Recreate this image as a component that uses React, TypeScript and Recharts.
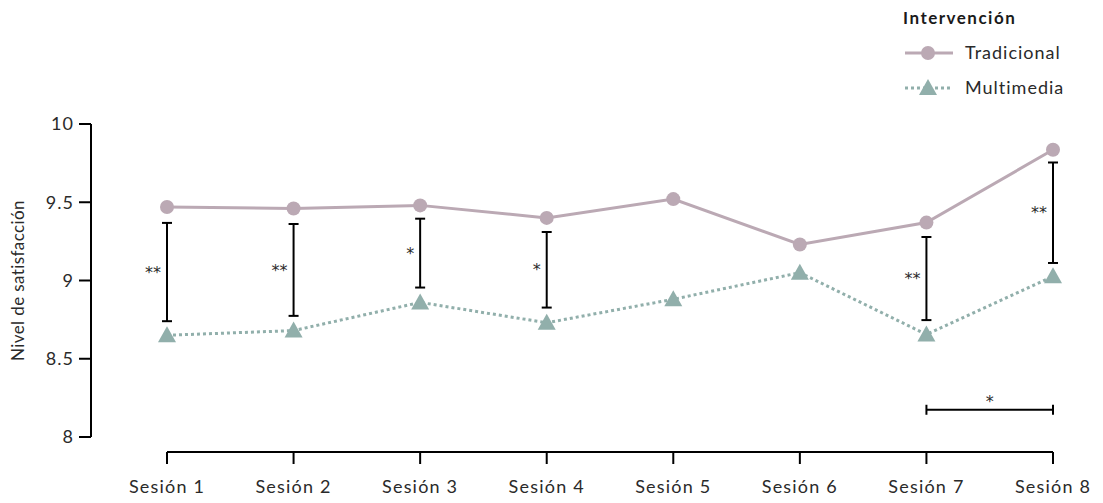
import React from "react";
import {
  LineChart,
  Line,
  XAxis,
  YAxis,
  ErrorBar,
  LabelList,
  ReferenceLine,
  Label,
} from "recharts";

// data
const sessions = [
  "Sesión 1",
  "Sesión 2",
  "Sesión 3",
  "Sesión 4",
  "Sesión 5",
  "Sesión 6",
  "Sesión 7",
  "Sesión 8",
];
const tradicional = [9.47, 9.46, 9.48, 9.4, 9.52, 9.23, 9.37, 9.835];
const multimedia = [8.65, 8.68, 8.86, 8.73, 8.88, 9.05, 8.655, 9.027];

// significance brackets between the groups, per session
const sigUpper = [9.368, 9.361, 9.395, 9.31, null, null, 9.278, 9.754];
const sigLower = [8.74, 8.774, 8.955, 8.827, null, null, 8.747, 9.112];
const sigMarks = ["**", "**", "*", "*", null, null, "**", "**"];

// session 7 vs session 8 comparison
const pairFrom = sessions[6];
const pairTo = sessions[7];
const pairLevel = 8.174;
const pairMark = "*";

const yTicks = [8, 8.5, 9, 9.5, 10];
const Y_MIN = 8;
const Y_MAX = 10;

const COLOR_TRAD = "#bba9b4";
const COLOR_MULTI = "#91afab";
const FONT = "Lato, 'Open Sans', sans-serif";
const STAR_FONT = "'DejaVu Sans', sans-serif";
const TEXT = "#2a2a2a";

const WIDTH = 1103;
const HEIGHT = 503;
const X_AXIS_H = 66;
const MARGIN = { top: 124, right: 50, bottom: 0, left: 0 };
const PLOT_H = HEIGHT - MARGIN.top - X_AXIS_H;
const AXIS_GAP = 15; // x axis sits a little below the y=8 line
const axisBase = Y_MIN - (AXIS_GAP * (Y_MAX - Y_MIN)) / PLOT_H;
const CAP = (5 * (Y_MAX - Y_MIN)) / PLOT_H;

const data = sessions.map((session, i) => {
  const hi = sigUpper[i];
  const lo = sigLower[i];
  return {
    session,
    tradicional: tradicional[i],
    multimedia: multimedia[i],
    sigMid: hi == null || lo == null ? null : (hi + lo) / 2,
    sigErr: hi == null || lo == null ? null : (hi - lo) / 2,
    sigMark: sigMarks[i],
  };
});

const TriangleDot = (props: any) => {
  const { cx, cy, index } = props;
  if (cx == null || cy == null) return null;
  return (
    <path
      key={`tri-${index}`}
      d={`M${cx},${cy - 9} L${cx + 9},${cy + 7} L${cx - 9},${cy + 7} Z`}
      fill={COLOR_MULTI}
    />
  );
};

const SessionTick = ({ x, y, payload }: any) => (
  <g>
    <line
      x1={x}
      x2={x}
      y1={y + AXIS_GAP}
      y2={y + AXIS_GAP + 12}
      stroke="#000"
      strokeWidth={2}
    />
    <text
      x={x}
      y={y + 56}
      textAnchor="middle"
      fill={TEXT}
      fontSize={18}
      fontFamily={FONT}
      letterSpacing={1.2}
    >
      {payload.value}
    </text>
  </g>
);

const legendItems = [
  { name: "Tradicional", color: COLOR_TRAD, dashed: false },
  { name: "Multimedia", color: COLOR_MULTI, dashed: true },
];

const LegendBox = () => (
  <svg
    width={208}
    height={110}
    style={{ position: "absolute", left: 895, top: 0 }}
  >
    <text
      x={8}
      y={24}
      fontFamily={FONT}
      fontWeight={700}
      fontSize={17}
      fill="#1a1a1a"
      letterSpacing={1.5}
    >
      Intervención
    </text>
    {legendItems.map((item, i) => {
      const cy = 53 + i * 35;
      return (
        <g key={item.name}>
          <line
            x1={10}
            x2={58}
            y1={cy}
            y2={cy}
            stroke={item.color}
            strokeWidth={3}
            strokeDasharray={item.dashed ? "3 3" : undefined}
          />
          {item.dashed ? (
            <path
              d={`M33,${cy - 9} L42,${cy + 7} L24,${cy + 7} Z`}
              fill={item.color}
            />
          ) : (
            <circle cx={33} cy={cy} r={7} fill={item.color} />
          )}
          <text
            x={70}
            y={cy + 6}
            fontFamily={FONT}
            fontSize={18}
            fill={TEXT}
            letterSpacing={1}
          >
            {item.name}
          </text>
        </g>
      );
    })}
  </svg>
);

export default function App() {
  return (
    <div
      style={{
        position: "absolute",
        left: 0,
        top: 0,
        width: WIDTH,
        height: HEIGHT,
        background: "#fff",
        fontFamily: FONT,
      }}
    >
      <LineChart width={WIDTH} height={HEIGHT} data={data} margin={MARGIN}>
        <XAxis
          dataKey="session"
          padding={{ left: 76, right: 0 }}
          axisLine={false}
          tickLine={false}
          tickSize={0}
          tickMargin={0}
          height={X_AXIS_H}
          interval={0}
          tick={<SessionTick />}
        />
        <YAxis
          type="number"
          domain={[Y_MIN, Y_MAX]}
          ticks={yTicks}
          width={91}
          axisLine={{ stroke: "#000", strokeWidth: 2 }}
          tickLine={{ stroke: "#000", strokeWidth: 2 }}
          tickSize={12}
          tickMargin={5}
          tick={{ fontSize: 18, fill: TEXT, fontFamily: FONT, letterSpacing: 1 }}
        >
          <Label
            value="Nivel de satisfacción"
            angle={-90}
            position="insideLeft"
            offset={18}
            style={{
              textAnchor: "middle",
              fontSize: 17,
              fill: TEXT,
              fontFamily: FONT,
              letterSpacing: 0.4,
            }}
          />
        </YAxis>

        {/* x axis line, from first to last session only */}
        <ReferenceLine
          segment={[
            { x: sessions[0], y: axisBase },
            { x: sessions[sessions.length - 1], y: axisBase },
          ]}
          stroke="#000"
          strokeWidth={2}
          ifOverflow="visible"
        />

        {/* bracket session 7 vs session 8 */}
        <ReferenceLine
          segment={[
            { x: pairFrom, y: pairLevel },
            { x: pairTo, y: pairLevel },
          ]}
          stroke="#000"
          strokeWidth={2}
        >
          <Label
            value={pairMark}
            position="top"
            offset={3}
            fontSize={16}
            fill={TEXT}
            fontFamily={STAR_FONT}
          />
        </ReferenceLine>
        {[pairFrom, pairTo].map((s) => (
          <ReferenceLine
            key={s}
            segment={[
              { x: s, y: pairLevel - CAP },
              { x: s, y: pairLevel + CAP },
            ]}
            stroke="#000"
            strokeWidth={2}
          />
        ))}

        <Line
          dataKey="sigMid"
          stroke="none"
          dot={false}
          activeDot={false}
          legendType="none"
          isAnimationActive={false}
        >
          <ErrorBar
            dataKey="sigErr"
            direction="y"
            width={5}
            stroke="#000"
            strokeWidth={2}
            isAnimationActive={false}
          />
          <LabelList
            dataKey="sigMark"
            position="left"
            offset={6}
            fontSize={16}
            fill={TEXT}
            fontFamily={STAR_FONT}
          />
        </Line>

        <Line
          dataKey="tradicional"
          stroke={COLOR_TRAD}
          strokeWidth={3}
          dot={{ r: 7, fill: COLOR_TRAD, stroke: "none" }}
          activeDot={false}
          isAnimationActive={false}
        />
        <Line
          dataKey="multimedia"
          stroke={COLOR_MULTI}
          strokeWidth={3}
          strokeDasharray="3 3"
          dot={<TriangleDot />}
          activeDot={false}
          isAnimationActive={false}
        />
      </LineChart>
      <LegendBox />
    </div>
  );
}
